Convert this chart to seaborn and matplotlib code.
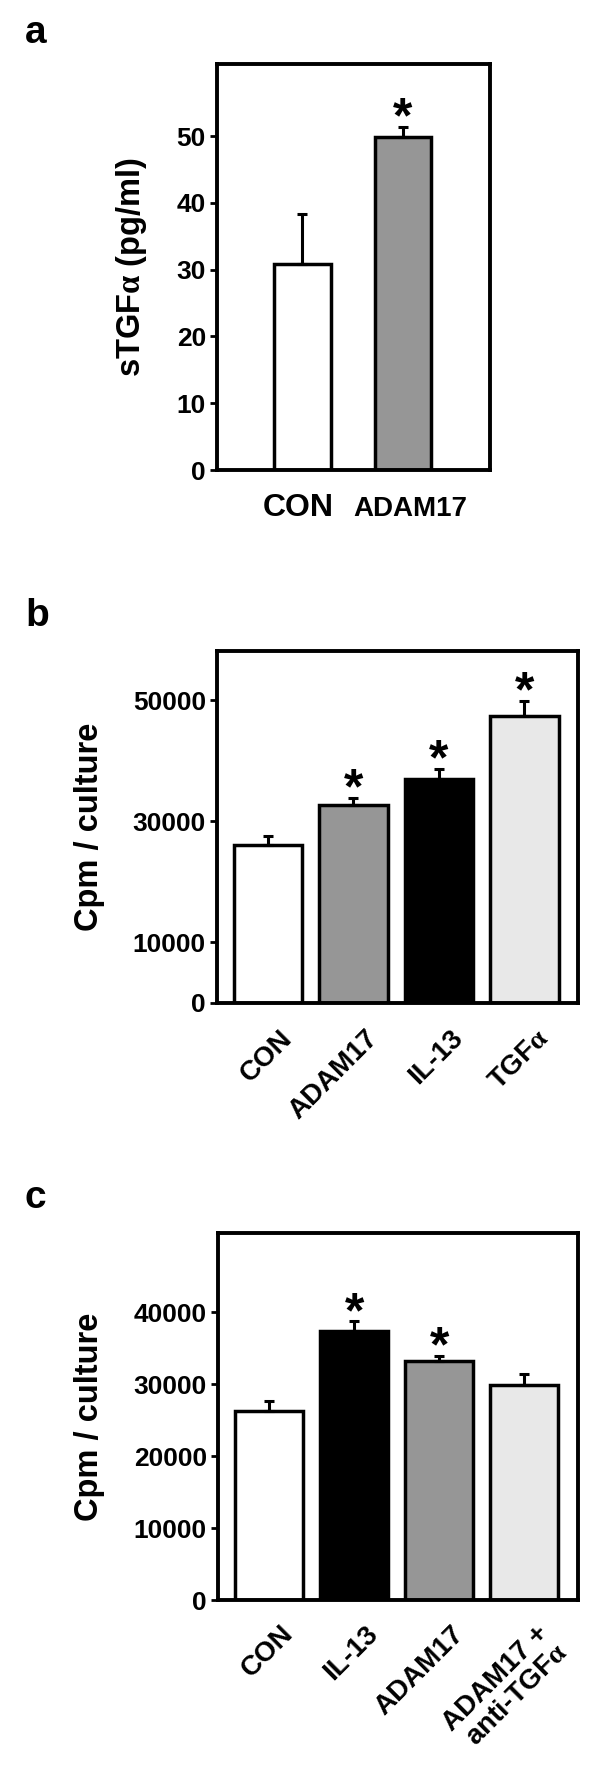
import matplotlib
matplotlib.use("Agg")
import matplotlib.pyplot as plt
import seaborn as sns
import numpy as np
import pandas as pd

# ---------------- data ----------------
a_categories = ["CON", "ADAM17"]
a_values = [30.8, 49.9]
a_errors = [7.6, 1.5]
a_significant = [False, True]
a_yticks = [0, 10, 20, 30, 40, 50]

b_categories = ["CON", "ADAM17", "IL-13", "TGF$\\alpha$"]
b_values = [26100, 32750, 37000, 47450]
b_errors = [1500, 1050, 1600, 2450]
b_significant = [False, True, True, True]
b_yticks = [0, 10000, 30000, 50000]

c_categories = ["CON", "IL-13", "ADAM17", "ADAM17 +\nanti-TGF$\\alpha$"]
c_values = [26250, 37400, 33200, 29900]
c_errors = [1450, 1330, 700, 1500]
c_significant = [False, True, True, False]
c_yticks = [0, 10000, 20000, 30000, 40000]

# ---------------- style ----------------
a_colors = ["#ffffff", "#969696"]
b_colors = ["#ffffff", "#969696", "#000000", "#e8e8e8"]
c_colors = ["#ffffff", "#000000", "#969696", "#e8e8e8"]

sns.set_style("white")
plt.rcParams["font.family"] = ["Liberation Sans", "DejaVu Sans"]
plt.rcParams["font.weight"] = "bold"
plt.rcParams["text.color"] = "black"
plt.rcParams["axes.labelcolor"] = "black"
plt.rcParams["xtick.color"] = "black"
plt.rcParams["ytick.color"] = "black"
plt.rcParams["mathtext.fontset"] = "custom"
plt.rcParams["mathtext.it"] = "Liberation Serif"
plt.rcParams["mathtext.rm"] = "Liberation Serif"
plt.rcParams["mathtext.default"] = "it"

W, H = 600, 1766
fig = plt.figure(figsize=(W / 100, H / 100), dpi=100)


def axes_px(left, right, top, bottom):
    return fig.add_axes([left / W, (H - bottom) / H, (right - left) / W, (bottom - top) / H])


def draw_panel(ax, cats, vals, errs, sig, colors, yticks, ylim, xlim, width,
               ylabel, ylabel_x, label_sizes, rotated, label_dx, label_dy):
    df = pd.DataFrame({"cat": cats, "val": vals})
    sns.barplot(data=df, x="cat", y="val", hue="cat", palette=colors, legend=False,
                width=width, edgecolor="black", linewidth=2.5, saturation=1,
                errorbar=None, ax=ax)
    x = np.arange(len(cats))
    ax.errorbar(x, vals, yerr=[np.zeros(len(vals)), errs], fmt="none", ecolor="black",
                elinewidth=2.2, capsize=3.6, capthick=2.2, zorder=3)
    for i in range(len(cats)):
        if sig[i]:
            ax.annotate("*", xy=(x[i], vals[i] + errs[i]), xytext=(0, -4),
                        textcoords="offset points", ha="center", va="baseline",
                        fontsize=36, fontweight="bold", color="black")
    ax.set_xlim(*xlim)
    ax.set_ylim(*ylim)
    ax.set_yticks(yticks)
    ax.set_xticks(x)
    ax.set_xticklabels([])
    ax.tick_params(axis="x", length=0)
    ax.tick_params(axis="y", direction="out", length=5, width=2, labelsize=19, pad=3,
                   left=True, colors="black")
    for sp in ax.spines.values():
        sp.set_visible(True)
        sp.set_linewidth(2.8)
        sp.set_color("black")
    ax.set_xlabel("")
    ax.set_ylabel(ylabel, fontsize=23.5, fontweight="bold", color="black")
    ax.yaxis.set_label_coords(ylabel_x, 0.5)
    for i, name in enumerate(cats):
        if rotated:
            ax.annotate(name, xy=(x[i], 0), xycoords=("data", "axes fraction"),
                        xytext=(label_dx[i], label_dy), textcoords="offset points",
                        rotation=45, rotation_mode="anchor", ha="right", va="top",
                        multialignment="right", linespacing=1.0, color="black",
                        fontsize=label_sizes[i], fontweight="bold")
        else:
            ax.annotate(name, xy=(x[i], 0), xycoords=("data", "axes fraction"),
                        xytext=(label_dx[i], label_dy), textcoords="offset points",
                        ha="center", va="baseline", fontsize=label_sizes[i],
                        fontweight="bold", color="black")


ax_a = axes_px(217, 490, 64, 470)
draw_panel(ax_a, a_categories, a_values, a_errors, a_significant, a_colors, a_yticks,
           (0, 60.8), (-0.845, 1.863), 0.565, "sTGF$\\alpha$ (pg/ml)", -0.25,
           [23, 20], False, [-3, 5], -33)

ax_b = axes_px(217, 578, 651, 1003)
draw_panel(ax_b, b_categories, b_values, b_errors, b_significant, b_colors, b_yticks,
           (0, 58100), (-0.596, 3.626), 0.8, "Cpm / culture", -0.31,
           [20, 20, 20, 20], True, [8, 8, 8, 8], -16)

ax_c = axes_px(218, 578, 1233, 1600)
draw_panel(ax_c, c_categories, c_values, c_errors, c_significant, c_colors, c_yticks,
           (0, 51000), (-0.6, 3.63), 0.8, "Cpm / culture", -0.315,
           [20, 20, 20, 20], True, [8, 8, 8, 8], -15)

for letter, ypx in [("a", 43), ("b", 626), ("c", 1208)]:
    fig.text(25 / W, 1 - ypx / H, letter, fontsize=28, fontweight="bold",
             ha="left", va="baseline", color="black")

fig.savefig("out.png", dpi=100, facecolor="white")
